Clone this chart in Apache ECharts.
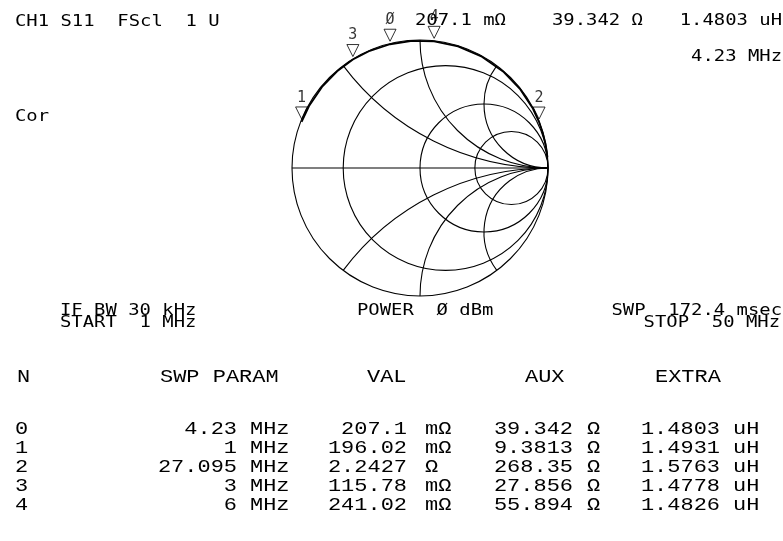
<!DOCTYPE html>
<html>
<head>
<meta charset="utf-8">
<script src="https://cdn.jsdelivr.net/npm/echarts/dist/echarts.min.js"></script>
<style>
  html, body { margin: 0; padding: 0; background: #fff; }
  #smith { width: 783px; height: 541px; }
</style>
</head>
<body>
<div id="smith"></div>
<script>
// smith grid, normalised values
var resistanceCircles = [0.25, 1, 2.5];
var reactanceArcs = [0.5, 1, 2, -0.5, -1, -2];
var Z0 = 50;

// marker readout table
var markerLabels = ['Ø', '1', '2', '3', '4'];
var rowNames = ['0', '1', '2', '3', '4'];
var sweepMHz = ['4.23', '1', '27.095', '3', '6'];
var valNum = ['207.1', '196.02', '2.2427', '115.78', '241.02'];
var valUnit = ['mΩ', 'mΩ', 'Ω', 'mΩ', 'mΩ'];
var auxNum = ['39.342', '9.3813', '268.35', '27.856', '55.894'];
var extraNum = ['1.4803', '1.4931', '1.5763', '1.4778', '1.4826'];
var markerR = [0.2071, 0.19602, 2.2427, 0.11578, 0.24102];   // ohm
var markerX = [39.342, 9.3813, 268.35, 27.856, 55.894];     // ohm

// trace read along the rim (ohm)
var traceR = [0.2, 0.2, 0.18, 0.15, 0.12, 0.15, 0.21, 0.23, 0.24, 0.3, 0.45, 0.7, 1.1, 1.6, 2.24, 3.2, 4.5, 6.5, 9];
var traceX = [9.38, 13, 18, 23, 27.86, 33, 39.34, 47, 55.89, 68, 85, 110, 145, 200, 268.35, 360, 500, 750, 1200];

function gamma(R, X) {
  var r = R / Z0, x = X / Z0;
  var d = (r + 1) * (r + 1) + x * x;
  return [(r * r + x * x - 1) / d, 2 * x / d];
}

var gridItems = [[2, 0], [3, 0]];
resistanceCircles.forEach(function (r) { gridItems.push([0, r]); });
reactanceArcs.forEach(function (x) { gridItems.push([1, x]); });

var lineSt = { fill: 'none', stroke: '#000', lineWidth: 1.1 };

function renderGrid(params, api) {
  var kind = api.value(0), v = api.value(1), c;
  if (kind === 2) {
    c = api.coord([0, 0]);
    return { type: 'circle', shape: { cx: c[0], cy: c[1], r: api.size([1, 0])[0] }, style: lineSt };
  }
  if (kind === 3) {
    var a = api.coord([-1, 0]), b = api.coord([1, 0]);
    return { type: 'line', shape: { x1: a[0], y1: a[1], x2: b[0], y2: b[1] }, style: lineSt };
  }
  if (kind === 0) {
    c = api.coord([v / (1 + v), 0]);
    return { type: 'circle', shape: { cx: c[0], cy: c[1], r: api.size([1 / (1 + v), 0])[0] }, style: lineSt };
  }
  // reactance arc, clipped to the unit circle
  c = api.coord([1, 1 / v]);
  var rad = api.size([Math.abs(1 / v), 0])[0];
  var e = api.coord([(v * v - 1) / (v * v + 1), 2 * v / (v * v + 1)]);
  var ang = Math.atan2(e[1] - c[1], e[0] - c[0]);
  var start, end;
  if (v > 0) {
    start = Math.PI / 2; end = ang;
    while (end < start) end += 2 * Math.PI;
  } else {
    start = ang; end = 3 * Math.PI / 2;
    while (start > end) start -= 2 * Math.PI;
    while (end - start > 2 * Math.PI) start += 2 * Math.PI;
  }
  return { type: 'arc', shape: { cx: c[0], cy: c[1], r: rad, startAngle: start, endAngle: end, clockwise: true }, style: lineSt };
}

var trace = traceX.map(function (x, i) { return gamma(traceR[i], x); });
var markers = markerX.map(function (x, i) { return gamma(markerR[i], x); });

var annFont = 'DejaVu Sans Mono';
var tabFont = 'Liberation Mono';
function txt(x, y, s, size, sx, align, fam) {
  return {
    type: 'text', x: x, y: y, scaleX: sx || 1, silent: true,
    style: { text: s, font: size + 'px "' + (fam || annFont) + '"', fill: '#000', align: align || 'left', verticalAlign: 'middle' }
  };
}

var texts = [
  txt(15, 22, 'CH1 S11  FScl  1 U', 16, 1.18),
  txt(415, 21, '207.1 mΩ', 16, 1.18),
  txt(552, 21, '39.342 Ω', 16, 1.18),
  txt(782, 21, '1.4803 uH', 16, 1.18, 'right'),
  txt(782, 57, '4.23 MHz', 16, 1.18, 'right'),
  txt(15, 117, 'Cor', 16, 1.18),
  txt(60, 311, 'IF BW 30 kHz', 16, 1.18),
  txt(60, 323, 'START  1 MHz', 16, 1.18),
  txt(357, 311, 'POWER  Ø dBm', 16, 1.18),
  txt(782, 311, 'SWP  172.4 msec', 16, 1.18, 'right'),
  txt(780, 323, 'STOP  50 MHz', 16, 1.18, 'right')
];

// table
var colHead = ['N', 'SWP PARAM', 'VAL', 'AUX', 'EXTRA'];
var colHeadX = [17, 160, 367, 525, 655];
colHead.forEach(function (h, i) { texts.push(txt(colHeadX[i], 377, h, 18, 1.22, 'left', tabFont)); });
var rowY = [429, 448, 467, 486, 505];
rowNames.forEach(function (n, i) {
  var y = rowY[i];
  texts.push(txt(15, y, n, 18, 1.22, 'left', tabFont));
  texts.push(txt(237, y, sweepMHz[i], 18, 1.22, 'right', tabFont));
  texts.push(txt(250, y, 'MHz', 18, 1.22, 'left', tabFont));
  texts.push(txt(407, y, valNum[i], 18, 1.22, 'right', tabFont));
  texts.push(txt(425, y, valUnit[i], 18, 1.22, 'left', tabFont));
  texts.push(txt(573, y, auxNum[i], 18, 1.22, 'right', tabFont));
  texts.push(txt(587, y, 'Ω', 18, 1.22, 'left', tabFont));
  texts.push(txt(720, y, extraNum[i], 18, 1.22, 'right', tabFont));
  texts.push(txt(733, y, 'uH', 18, 1.22, 'left', tabFont));
});

var chart = echarts.init(document.getElementById('smith'));
var option = {
  animation: false,
  backgroundColor: '#fff',
  grid: { left: 292, top: 40, width: 256, height: 256 },
  xAxis: { type: 'value', min: -1, max: 1, show: false },
  yAxis: { type: 'value', min: -1, max: 1, show: false },
  series: [
    {
      type: 'custom',
      renderItem: renderGrid,
      data: gridItems,
      clip: false,
      silent: true
    },
    {
      type: 'line',
      data: trace,
      showSymbol: false,
      smooth: false,
      lineStyle: { color: '#000', width: 1.8 },
      silent: true
    },
    {
      type: 'scatter',
      data: markers,
      symbol: 'path://M0,0L12,0L6,12Z',
      symbolSize: [12, 12],
      symbolOffset: [0, -9],
      itemStyle: { color: 'rgba(0,0,0,0)', borderColor: '#000', borderWidth: 1 },
      label: {
        show: true,
        position: 'top',
        distance: 1,
        color: '#000',
        fontFamily: annFont,
        fontSize: 15,
        formatter: function (p) { return markerLabels[p.dataIndex]; }
      },
      silent: true
    }
  ],
  graphic: texts
};
chart.setOption(option);
</script>
</body>
</html>
